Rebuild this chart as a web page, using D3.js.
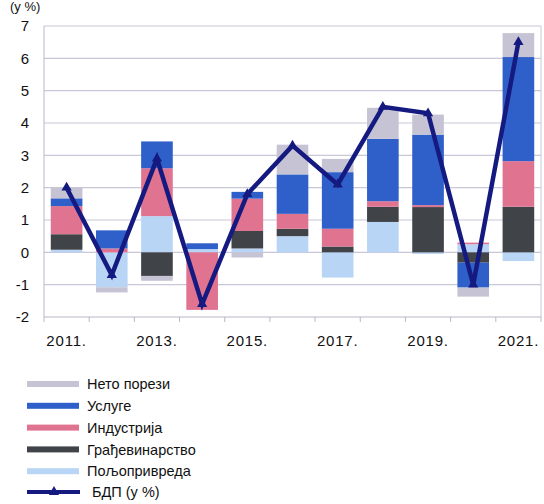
<!DOCTYPE html>
<html>
<head>
<meta charset="utf-8">
<script src="https://cdn.jsdelivr.net/npm/d3@7"></script>
<style>
  body { margin: 0; background: #fff; }
  text { font-family: "Liberation Sans", Arial, sans-serif; fill: #111; }
</style>
</head>
<body>
<svg width="544" height="504"></svg>
<script>
var years = ["2011", "2012", "2013", "2014", "2015", "2016", "2017", "2018", "2019", "2020", "2021"];
var tickYears = ["2011", "2013", "2015", "2017", "2019", "2021"];

// components, stacked from 0 outwards in this order
var poljoprivreda = [0.08, -1.08, 1.12, 0.10, 0.12, 0.50, -0.78, 0.94, -0.05, 0.25, -0.27];
var gradjevinarstvo = [0.48, 0, -0.73, 0, 0.54, 0.23, 0.18, 0.47, 1.40, -0.32, 1.41];
var industrija = [0.87, 0.12, 1.48, -1.78, 1.00, 0.46, 0.55, 0.17, 0.06, 0.05, 1.41];
var usluge = [0.24, 0.56, 0.83, 0.18, 0.21, 1.22, 1.75, 1.93, 2.18, -0.77, 3.22];
var netoPorezi = [0.33, -0.16, -0.15, 0, -0.16, 0.92, 0.41, 0.96, 0.62, -0.28, 0.74];
var bdp = [2.0, -0.7, 2.9, -1.6, 1.8, 3.3, 2.1, 4.5, 4.3, -1.0, 6.5];

var keys = ["polj", "grad", "ind", "usl", "neto"];
var names = {neto: "Нето порези", usl: "Услуге", ind: "Индустрија", grad: "Грађевинарство", polj: "Пољопривреда"};
var colors = {neto: "#c6c3d4", usl: "#2f5fc9", ind: "#e07390", grad: "#404348", polj: "#b9d5f6"};

var table = years.map(function(y, i) {
  return {year: y, polj: poljoprivreda[i], grad: gradjevinarstvo[i], ind: industrija[i], usl: usluge[i], neto: netoPorezi[i]};
});

var svg = d3.select("svg");
var pLeft = 44, pRight = 541, pTop = 26, pBottom = 317;

var x = d3.scaleBand().domain(years).range([pLeft, pRight]).paddingInner(0.3).paddingOuter(0.15);
var y = d3.scaleLinear().domain([-2, 7]).range([pBottom, pTop]);

// unit label
svg.append("text").attr("x", 10).attr("y", 11).style("font-size", "13px").text("(у %)");

// grid
svg.append("g").selectAll("line").data(d3.range(-1, 8)).enter().append("line")
  .attr("x1", pLeft).attr("x2", pRight)
  .attr("y1", function(d) { return y(d); }).attr("y2", function(d) { return y(d); })
  .attr("stroke", "#c8c8d8").attr("stroke-width", 1.2);

// frame
svg.append("line").attr("x1", pLeft).attr("x2", pLeft).attr("y1", pTop).attr("y2", pBottom).attr("stroke", "#b8b8c8");
svg.append("line").attr("x1", pRight).attr("x2", pRight).attr("y1", pTop).attr("y2", pBottom).attr("stroke", "#c8c8d8");

// y labels
svg.append("g").selectAll("text").data(d3.range(-2, 8)).enter().append("text")
  .attr("x", 29).attr("y", function(d) { return y(d); }).attr("dy", "0.36em")
  .attr("text-anchor", "end").style("font-size", "15px")
  .text(function(d) { return d; });

// stacked bars
var series = d3.stack().keys(keys).offset(d3.stackOffsetDiverging)(table);
svg.append("g").selectAll("g").data(series).enter().append("g")
  .attr("fill", function(s) { return colors[s.key]; })
  .selectAll("rect").data(function(s) { return s; }).enter().append("rect")
  .attr("x", function(d) { return x(d.data.year); })
  .attr("width", x.bandwidth())
  .attr("y", function(d) { return y(Math.max(d[0], d[1])); })
  .attr("height", function(d) { return Math.abs(y(d[0]) - y(d[1])); });

// x axis
svg.append("line").attr("x1", pLeft).attr("x2", pRight).attr("y1", pBottom).attr("y2", pBottom).attr("stroke", "#b8b8c8").attr("stroke-width", 1.2);
svg.append("g").selectAll("line").data(d3.range(years.length + 1)).enter().append("line")
  .attr("x1", function(i) { return pLeft + i * x.step(); })
  .attr("x2", function(i) { return pLeft + i * x.step(); })
  .attr("y1", pBottom).attr("y2", pBottom + 5).attr("stroke", "#b8b8c8");
svg.append("g").selectAll("text").data(tickYears).enter().append("text")
  .attr("x", function(d) { return x(d) + x.bandwidth() / 2; })
  .attr("y", 346).attr("text-anchor", "middle")
  .style("font-size", "15px").style("letter-spacing", "0.8px")
  .text(function(d) { return d + "."; });

// GDP line
var line = d3.line()
  .x(function(d, i) { return x(years[i]) + x.bandwidth() / 2; })
  .y(function(d) { return y(d); });
svg.append("path").datum(bdp).attr("d", line)
  .attr("fill", "none").attr("stroke", "#151a80").attr("stroke-width", 4.5).attr("stroke-linejoin", "miter");
svg.append("g").selectAll("path").data(bdp).enter().append("path")
  .attr("d", d3.symbol().type(d3.symbolTriangle).size(45))
  .attr("transform", function(d, i) { return "translate(" + (x(years[i]) + x.bandwidth() / 2) + "," + y(d) + ")"; })
  .attr("fill", "#151a80");

// legend
var legendKeys = ["neto", "usl", "ind", "grad", "polj"];
var lg = svg.append("g");
legendKeys.forEach(function(k, i) {
  var cy = 384 + i * 21.8;
  lg.append("rect").attr("x", 27).attr("y", cy - 3).attr("width", 52).attr("height", 6).attr("fill", colors[k]);
  lg.append("text").attr("x", 87).attr("y", cy).attr("dy", "0.36em").style("font-size", "14.5px").text(names[k]);
});
var ly = 492;
lg.append("line").attr("x1", 27).attr("x2", 80).attr("y1", ly).attr("y2", ly).attr("stroke", "#151a80").attr("stroke-width", 4);
lg.append("path").attr("d", d3.symbol().type(d3.symbolTriangle).size(45))
  .attr("transform", "translate(54," + ly + ")").attr("fill", "#151a80");
lg.append("text").attr("x", 92).attr("y", ly).attr("dy", "0.36em").style("font-size", "14.5px").text("БДП (у %)");
</script>
</body>
</html>
